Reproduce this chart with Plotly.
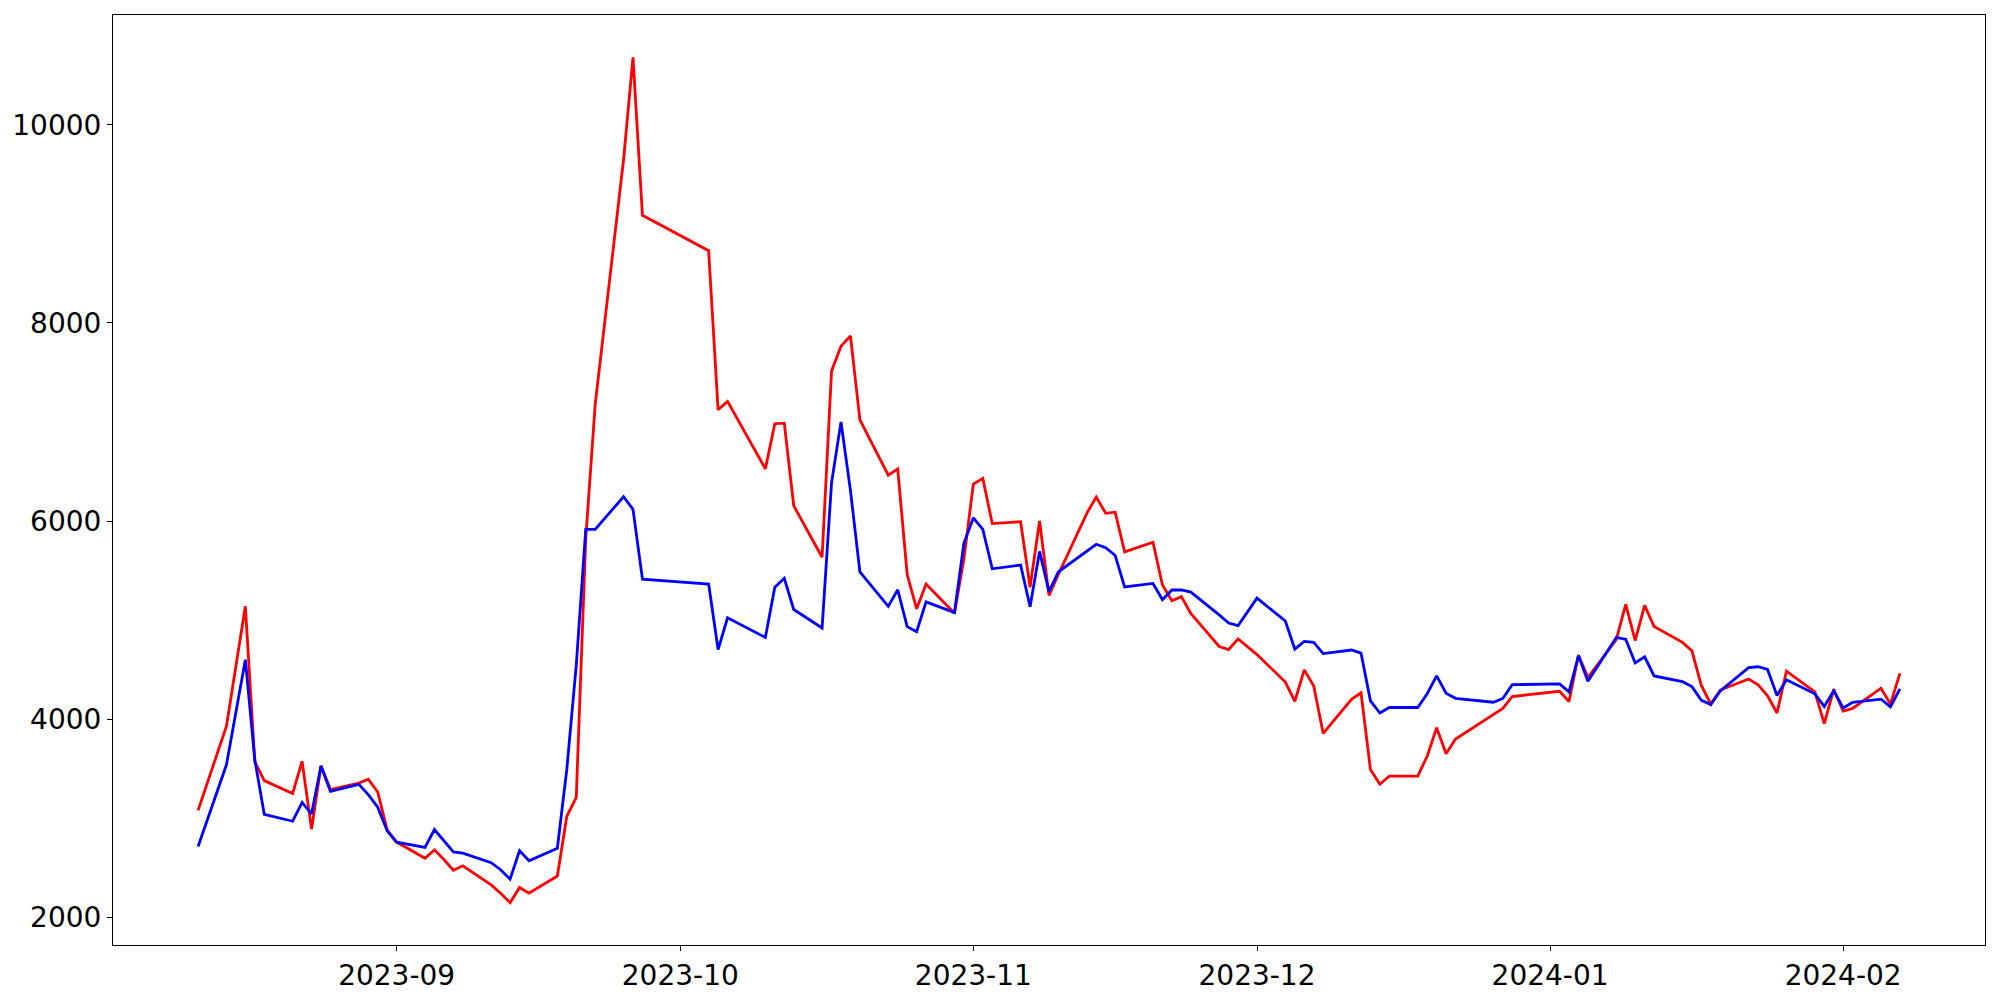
import plotly.graph_objects as go

dates = [
    "2023-08-11", "2023-08-14", "2023-08-16", "2023-08-17", "2023-08-18",
    "2023-08-21", "2023-08-22", "2023-08-23", "2023-08-24", "2023-08-25",
    "2023-08-28", "2023-08-29", "2023-08-30", "2023-08-31", "2023-09-01",
    "2023-09-04", "2023-09-05", "2023-09-06", "2023-09-07", "2023-09-08",
    "2023-09-11", "2023-09-12", "2023-09-13", "2023-09-14", "2023-09-15",
    "2023-09-18", "2023-09-19", "2023-09-20", "2023-09-21", "2023-09-22",
    "2023-09-25", "2023-09-26", "2023-09-27",
    "2023-10-04", "2023-10-05", "2023-10-06",
    "2023-10-10", "2023-10-11", "2023-10-12", "2023-10-13",
    "2023-10-16", "2023-10-17", "2023-10-18", "2023-10-19", "2023-10-20",
    "2023-10-23", "2023-10-24", "2023-10-25", "2023-10-26", "2023-10-27",
    "2023-10-30", "2023-10-31", "2023-11-01", "2023-11-02", "2023-11-03",
    "2023-11-06", "2023-11-07", "2023-11-08", "2023-11-09", "2023-11-10",
    "2023-11-13", "2023-11-14", "2023-11-15", "2023-11-16", "2023-11-17",
    "2023-11-20", "2023-11-21", "2023-11-22", "2023-11-23", "2023-11-24",
    "2023-11-27", "2023-11-28", "2023-11-29", "2023-11-30", "2023-12-01",
    "2023-12-04", "2023-12-05", "2023-12-06", "2023-12-07", "2023-12-08",
    "2023-12-11", "2023-12-12", "2023-12-13", "2023-12-14", "2023-12-15",
    "2023-12-18", "2023-12-19", "2023-12-20", "2023-12-21", "2023-12-22",
    "2023-12-26", "2023-12-27", "2023-12-28",
    "2024-01-02", "2024-01-03", "2024-01-04", "2024-01-05",
    "2024-01-08", "2024-01-09", "2024-01-10", "2024-01-11", "2024-01-12",
    "2024-01-15", "2024-01-16", "2024-01-17", "2024-01-18", "2024-01-19",
    "2024-01-22", "2024-01-23", "2024-01-24", "2024-01-25", "2024-01-26",
    "2024-01-29", "2024-01-30", "2024-01-31", "2024-02-01", "2024-02-02",
    "2024-02-05", "2024-02-06", "2024-02-07",
]

red_values = [
    3080, 3930, 5140, 3570, 3380,
    3250, 3575, 2890, 3530, 3290,
    3355, 3395, 3265, 2880, 2760,
    2597, 2681, 2584, 2475, 2520,
    2327, 2244, 2148, 2302, 2244,
    2417, 3020, 3210, 5820, 7175,
    9646, 10680, 9085,
    8728, 7123, 7207,
    6526, 6982, 6988, 6154,
    5634, 7515, 7765, 7868, 7020,
    6462, 6526, 5460, 5114, 5364,
    5069, 5620, 6372, 6430, 5974,
    5993, 5332, 6000, 5250, 5463,
    6078, 6243, 6078, 6089, 5688,
    5786, 5355, 5196, 5237, 5068,
    4734, 4703, 4811, 4729, 4652,
    4375, 4180, 4498, 4334, 3857,
    4200, 4267, 3492, 3344, 3426,
    3426, 3626, 3913, 3651, 3800,
    4040, 4109, 4229,
    4282, 4179, 4648, 4421,
    4802, 5159, 4794, 5148, 4936,
    4775, 4690, 4340, 4152, 4294,
    4406, 4348, 4236, 4063, 4486,
    4275, 3956, 4302, 4082, 4109,
    4313, 4152, 4463,
]

blue_values = [
    2715, 3540, 4600, 3590, 3040,
    2970, 3160, 3045, 3528, 3271,
    3342, 3239, 3111, 2873, 2758,
    2706, 2886, 2777, 2661, 2648,
    2552, 2481, 2385, 2674, 2571,
    2697, 3495, 4545, 5916, 5916,
    6245, 6118, 5413,
    5364, 4703, 5024,
    4825, 5332, 5422, 5107,
    4921, 6385, 7001, 6308, 5486,
    5139, 5306, 4934, 4883, 5184,
    5075, 5775, 6032, 5916, 5518,
    5555, 5135, 5693, 5288, 5488,
    5699, 5765, 5730, 5652, 5334,
    5370, 5206, 5304, 5304, 5283,
    5052, 4970, 4944, 5083, 5222,
    4991, 4708, 4785, 4775, 4662,
    4698, 4667, 4185, 4062, 4118,
    4118, 4257, 4437, 4262, 4211,
    4171, 4209, 4348,
    4356, 4275, 4640, 4382,
    4825, 4806, 4567, 4629, 4436,
    4379, 4329, 4190, 4148, 4286,
    4521, 4529, 4502, 4240, 4398,
    4256, 4129, 4286, 4113, 4171,
    4202, 4125, 4306,
]

x_tick_values = ["2023-09-01", "2023-10-01", "2023-11-01", "2023-12-01", "2024-01-01", "2024-02-01"]
x_tick_labels = ["2023-09", "2023-10", "2023-11", "2023-12", "2024-01", "2024-02"]
y_tick_values = [2000, 4000, 6000, 8000, 10000]
y_tick_labels = ["2000", "4000", "6000", "8000", "10000"]

fig = go.Figure()
fig.add_trace(go.Scatter(x=dates, y=red_values, mode="lines",
                         line=dict(color="#ff0000", width=2.8), showlegend=False))
fig.add_trace(go.Scatter(x=dates, y=blue_values, mode="lines",
                         line=dict(color="#0000ff", width=2.8), showlegend=False))

axis_common = dict(
    showgrid=False, zeroline=False, showline=True, linecolor="black",
    linewidth=1.1, mirror=True, ticks="outside", ticklen=5, tickwidth=1.1,
    tickcolor="black", tickfont=dict(family="DejaVu Sans", size=28, color="black"),
)

# page body has an 8px margin; size/margins chosen so the plot box lands at
# x 113..1985, y 15..945 of the 2000x1000 window
fig.update_layout(
    width=1984, height=984,
    margin=dict(l=105, r=7, t=7, b=47, autoexpand=False),
    paper_bgcolor="white", plot_bgcolor="white",
    xaxis=dict(type="date", range=["2023-08-02", "2024-02-16"],
               tickmode="array", tickvals=x_tick_values, ticktext=x_tick_labels,
               **axis_common),
    yaxis=dict(range=[1721, 11107], tickmode="array",
               tickvals=y_tick_values, ticktext=y_tick_labels,
               **axis_common),
)

fig.write_html("out.html")
